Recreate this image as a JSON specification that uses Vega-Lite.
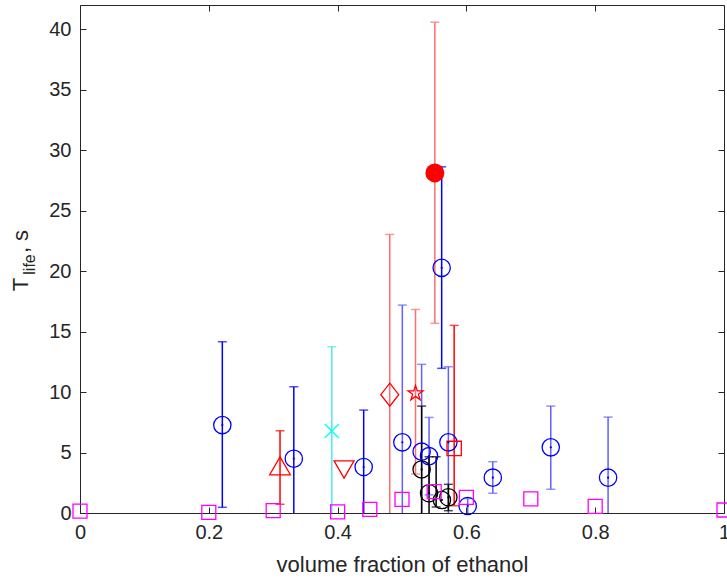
{
  "$schema": "https://vega.github.io/schema/vega-lite/v6.json",
  "width": 644,
  "height": 508,
  "autosize": {"type": "none"},
  "padding": {"left": 80, "top": 5, "right": 3, "bottom": 67},
  "background": "white",
  "config": {
    "view": {"stroke": null},
    "axis": {
      "domainColor": "#262626", "tickColor": "#262626", "labelColor": "#262626", "titleColor": "#262626",
      "labelFont": "Liberation Sans", "titleFont": "Liberation Sans", "labelFontSize": 20, "titleFontSize": 22,
      "titleFontWeight": "normal", "tickSize": -6, "grid": false, "domainWidth": 1, "tickWidth": 1, "labelFlush": false
    }
  },
  "datasets": {
    "pts": [
      {"x": 0.221, "y": 7.27, "s": "circle_blue"},
      {"x": 0.332, "y": 4.49, "s": "circle_blue"},
      {"x": 0.4405, "y": 3.8, "s": "circle_blue"},
      {"x": 0.5005, "y": 5.84, "s": "circle_blue"},
      {"x": 0.5305, "y": 5.07, "s": "circle_blue"},
      {"x": 0.542, "y": 4.7, "s": "circle_blue"},
      {"x": 0.5616, "y": 20.27, "s": "circle_blue"},
      {"x": 0.572, "y": 5.84, "s": "circle_blue"},
      {"x": 0.602, "y": 0.58, "s": "circle_blue"},
      {"x": 0.641, "y": 2.92, "s": "circle_blue"},
      {"x": 0.731, "y": 5.43, "s": "circle_blue"},
      {"x": 0.82, "y": 2.92, "s": "circle_blue"},
      {"x": 0.5305, "y": 3.6, "s": "circle_black"},
      {"x": 0.542, "y": 1.63, "s": "circle_black"},
      {"x": 0.562, "y": 1.07, "s": "circle_black"},
      {"x": 0.572, "y": 1.3, "s": "circle_black"},
      {"x": 0.0, "y": 0.15, "s": "square_magenta"},
      {"x": 0.2, "y": 0.05, "s": "square_magenta"},
      {"x": 0.3, "y": 0.2, "s": "square_magenta"},
      {"x": 0.4, "y": 0.1, "s": "square_magenta"},
      {"x": 0.45, "y": 0.3, "s": "square_magenta"},
      {"x": 0.5, "y": 1.13, "s": "square_magenta"},
      {"x": 0.55, "y": 1.76, "s": "square_magenta"},
      {"x": 0.6, "y": 1.3, "s": "square_magenta"},
      {"x": 0.7, "y": 1.16, "s": "square_magenta"},
      {"x": 0.8, "y": 0.55, "s": "square_magenta"},
      {"x": 1.0, "y": 0.25, "s": "square_magenta"},
      {"x": 0.3106, "y": 3.9, "s": "tri_up"},
      {"x": 0.41, "y": 3.6, "s": "tri_down"},
      {"x": 0.481, "y": 9.78, "s": "diamond"},
      {"x": 0.521, "y": 9.89, "s": "star"},
      {"x": 0.581, "y": 5.34, "s": "square_red"},
      {"x": 0.391, "y": 6.78, "s": "x_cyan"},
      {"x": 0.551, "y": 28.12, "s": "filled"}
    ],
    "bars": [
      {"x": 0.221, "lo": 0.47, "hi": 14.16, "s": "eb_blue"},
      {"x": 0.4405, "lo": -1, "hi": 8.51, "s": "eb_blue"},
      {"x": 0.5005, "lo": -1, "hi": 17.19, "s": "eb_lightblue"},
      {"x": 0.5305, "lo": -1, "hi": 12.29, "s": "eb_lightblue"},
      {"x": 0.542, "lo": 1.5, "hi": 7.9, "s": "eb_lightblue"},
      {"x": 0.572, "lo": -1, "hi": 12.09, "s": "eb_lightblue"},
      {"x": 0.602, "lo": -1, "hi": 1.2, "s": "eb_lightblue"},
      {"x": 0.641, "lo": 1.63, "hi": 4.24, "s": "eb_lightblue"},
      {"x": 0.731, "lo": 1.96, "hi": 8.84, "s": "eb_lightblue"},
      {"x": 0.82, "lo": -1, "hi": 7.93, "s": "eb_lightblue"},
      {"x": 0.332, "lo": -1, "hi": 10.44, "s": "eb_blue"},
      {"x": 0.5616, "lo": 11.96, "hi": 28.62, "s": "eb_blue"},
      {"x": 0.5305, "lo": -1, "hi": 8.84, "s": "eb_black"},
      {"x": 0.542, "lo": -1, "hi": 4.65, "s": "eb_black"},
      {"x": 0.553, "lo": 0.5, "hi": 4.65, "s": "eb_black"},
      {"x": 0.572, "lo": 0.19, "hi": 2.37, "s": "eb_black"},
      {"x": 0.3106, "lo": 0.72, "hi": 6.8, "s": "eb_red"},
      {"x": 0.581, "lo": 0.6, "hi": 15.51, "s": "eb_red"},
      {"x": 0.481, "lo": -1, "hi": 23.03, "s": "eb_lightred"},
      {"x": 0.551, "lo": 15.68, "hi": 40.58, "s": "eb_lightred"},
      {"x": 0.521, "lo": 3.22, "hi": 16.83, "s": "eb_lightred"},
      {"x": 0.391, "lo": -1, "hi": 13.74, "s": "eb_cyan"}
    ]
  },
  "layer": [
    {
      "data": {"name": "bars"},
      "mark": {"type": "rule", "clip": true, "strokeWidth": 1.5},
      "encoding": {
        "x": {"field": "x", "type": "quantitative", "scale": {"domain": [0, 1], "nice": false, "zero": false},
          "axis": {"orient": "bottom", "values": [0, 0.2, 0.4, 0.6, 0.8, 1], "format": "~g", "title": "volume fraction of ethanol", "labelPadding": 15, "titlePadding": 12}},
        "y": {"field": "lo", "type": "quantitative", "scale": {"domain": [0, 42], "nice": false},
          "axis": {"orient": "left", "values": [0, 5, 10, 15, 20, 25, 30, 35, 40], "title": null, "labelPadding": 15}},
        "y2": {"field": "hi"},
        "color": {"field": "s", "type": "nominal", "legend": null,
          "scale": {
            "domain": ["circle_blue", "circle_black", "square_magenta", "square_red", "tri_up", "tri_down", "diamond", "star", "x_cyan", "filled", "eb_blue", "eb_lightblue", "eb_black", "eb_red", "eb_lightred", "eb_cyan"],
            "range": ["#0000ff", "#000000", "#ff00ff", "#ff0000", "#ff0000", "#ff0000", "#ff0000", "#ff0000", "#00ffff", "#ff0000", "#0000ff", "#6060ff", "#000000", "#ff0000", "#ff6e6e", "#4de8e8"]
          }}
      }
    },
    {
      "data": {"name": "bars"},
      "mark": {"type": "tick", "orient": "horizontal", "size": 9, "thickness": 1.5, "clip": true},
      "encoding": {
        "x": {"field": "x", "type": "quantitative", "axis": {"orient": "top", "values": [0, 0.2, 0.4, 0.6, 0.8, 1], "labels": false, "title": null}},
        "y": {"field": "hi", "type": "quantitative", "axis": {"orient": "right", "values": [0, 5, 10, 15, 20, 25, 30, 35, 40], "labels": false, "title": null}},
        "color": {"field": "s", "type": "nominal", "legend": null}
      }
    },
    {
      "data": {"name": "bars"},
      "mark": {"type": "tick", "orient": "horizontal", "size": 9, "thickness": 1.5, "clip": true},
      "encoding": {
        "x": {"field": "x", "type": "quantitative", "axis": null},
        "y": {"field": "lo", "type": "quantitative", "axis": null},
        "color": {"field": "s", "type": "nominal", "legend": null}
      }
    },
    {
      "data": {"name": "pts"},
      "transform": [{"filter": "datum.s !== 'filled'"}],
      "mark": {"type": "point", "filled": false, "strokeWidth": 1.3, "opacity": 1},
      "encoding": {
        "x": {"field": "x", "type": "quantitative", "axis": null},
        "y": {"field": "y", "type": "quantitative",
          "axis": {"orient": "left", "domain": false, "ticks": false, "labels": false, "title": "T", "titleX": -53, "titleY": 279, "titleAngle": 270, "titleAlign": "center", "titleBaseline": "alphabetic", "titleFontSize": 22}},
        "color": {"field": "s", "type": "nominal", "legend": null},
        "shape": {"field": "s", "type": "nominal", "legend": null,
          "scale": {
            "domain": ["circle_blue", "circle_black", "square_magenta", "square_red", "tri_up", "tri_down", "diamond", "star", "x_cyan"],
            "range": ["circle", "circle", "square", "square", "triangle-up", "triangle-down", "M0,-1L0.78,0L0,1L-0.78,0Z", "M0,-1L0.225,-0.309L0.951,-0.309L0.363,0.118L0.588,0.809L0,0.382L-0.588,0.809L-0.363,0.118L-0.951,-0.309L-0.225,-0.309Z", "M-1,-1L1,1M-1,1L1,-1"]
          }},
        "size": {"field": "s", "type": "nominal", "legend": null,
          "scale": {"type": "ordinal",
            "domain": ["circle_blue", "circle_black", "square_magenta", "square_red", "tri_up", "tri_down", "diamond", "star", "x_cyan"],
            "range": [300, 300, 196, 205, 428, 400, 529, 249, 200]
          }}
      }
    },
    {
      "data": {"name": "pts"},
      "transform": [{"filter": "datum.s === 'filled'"}],
      "mark": {"type": "point", "filled": true, "shape": "circle", "size": 361, "opacity": 1},
      "encoding": {
        "x": {"field": "x", "type": "quantitative", "axis": null},
        "y": {"field": "y", "type": "quantitative",
          "axis": {"orient": "left", "domain": false, "ticks": false, "labels": false, "title": "life", "titleX": -46, "titleY": 259, "titleAngle": 270, "titleAlign": "center", "titleBaseline": "alphabetic", "titleFontSize": 16}},
        "color": {"field": "s", "type": "nominal", "legend": null}
      }
    },
    {
      "data": {"name": "pts"},
      "transform": [{"filter": "datum.s === 'circle_blue' || datum.s === 'circle_black'"}],
      "mark": {"type": "point", "filled": true, "shape": "circle", "size": 5, "opacity": 1},
      "encoding": {
        "x": {"field": "x", "type": "quantitative", "axis": null},
        "y": {"field": "y", "type": "quantitative",
          "axis": {"orient": "left", "domain": false, "ticks": false, "labels": false, "title": ", s", "titleX": -53, "titleY": 236, "titleAngle": 270, "titleAlign": "center", "titleBaseline": "alphabetic", "titleFontSize": 22}},
        "color": {"field": "s", "type": "nominal", "legend": null}
      }
    }
  ],
  "resolve": {"axis": {"x": "independent", "y": "independent"}}
}
